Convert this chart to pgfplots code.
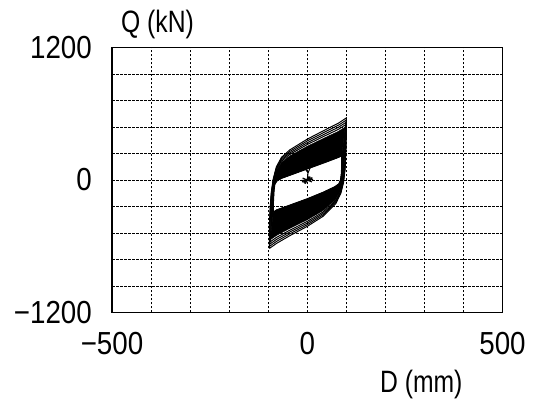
\documentclass[border=0pt]{standalone}
\usepackage{fontspec}
\setmainfont{Liberation Sans}[FakeStretch=0.87]
\newfontfamily\labelfont{Liberation Sans}[FakeStretch=0.8]
\usepackage{pgfplots}
\pgfplotsset{compat=1.18}
\begin{document}
\begin{tikzpicture}
\useasboundingbox (0,0) rectangle (536bp,407bp);
\begin{axis}[
  at={(112bp,94.5bp)}, anchor=south west,
  scale only axis, width=390.5bp, height=265bp,
  xmin=-500, xmax=500, ymin=-1200, ymax=1200,
  xtick={-500,0,500}, xticklabels={−500,0,500},
  ytick={-1200,0,1200}, yticklabels={−1200,0,1200},
  minor xtick={-400,-300,-200,-100,100,200,300,400},
  minor ytick={-960,-720,-480,-240,240,480,720,960},
  grid=both,
  major grid style={black, line width=0.8bp, dash pattern=on 2.5bp off 1.5bp},
  minor grid style={black, line width=0.8bp, dash pattern=on 2.5bp off 1.5bp},
  major tick length=0pt, minor tick length=0pt,
  axis line style={line width=1.5bp},
  tick label style={font=\fontsize{32}{36}\selectfont, inner sep=0pt},
  xticklabel style={anchor=north, yshift=-20bp},
  yticklabel style={anchor=east, xshift=-20bp},
  every axis x label/.style={at={(axis description cs:0.686,-0.272)}, anchor=west, inner sep=0pt, font=\labelfont\fontsize{31}{34}\selectfont},
  every axis y label/.style={at={(axis description cs:0.023,1.085)}, anchor=west, inner sep=0pt, font=\labelfont\fontsize{31}{34}\selectfont},
  xlabel={D (mm)}, ylabel={Q (kN)},
]
% dense band (filled), upper piece
\addplot[fill=black, draw=black, line width=0.5bp] coordinates {
(-94.6,-540.8) (-94.6,-374.4) (-92.84,-228.4) (-90.32,-106.4) (-86.04,-2) (-78.76,88.8)
(-66,159.4) (-45,216.8) (0,305.2) (48,387) (80,440.6) (97.12,479.4)
(88,218) (80,205) (48,162) (0,100) (-45,42) (-66,15) (-78,-10) (-83,-40) (-85,-95)
(-86,-160) (-87,-230) (-87,-290) (-94.6,-540.8)};
% lower piece
\addplot[fill=black, draw=black, line width=0.5bp] coordinates {
(97.12,479.4) (97.12,344.8) (96.36,216.4) (94.6,88) (91.08,-15.2) (84.8,-99.6)
(72.28,-178.3) (40,-277.7) (0,-360) (-45,-438.5) (-78.76,-501.8) (-94.6,-540.8)
(-87,-290) (-78,-270) (-45,-228) (0,-170) (40,-112) (70,-62) (81,-35) (85,0)
(87,50) (88,110) (88,170) (88,218) (97.12,479.4)};
% inner loop outline
\addplot[black, line width=1bp] coordinates {
(-87,-290) (-87,-230) (-86,-160) (-85,-95) (-83,-40) (-78,-10) (-66,15) (-45,42)
(0,100) (48,162) (80,205) (88,218) (88,170) (88,110) (87,50) (85,0) (81,-35)
(70,-62) (40,-112) (0,-170) (-45,-228) (-78,-270) (-87,-290)};
% outer distinct loops
\addplot[black, line width=1bp] coordinates {
(-97,-620) (-97,-420) (-95,-250) (-92,-110) (-87,10) (-79,120) (-66,205) (-45,272)
(0,370) (48,458) (80,515) (100,562) (100,400) (99,250) (97,100) (93,-20) (86,-120)
(73,-215) (40,-330) (0,-420) (-45,-505) (-79,-575) (-97,-620)};
\addplot[black, line width=1bp] coordinates {
(-96.4,-600.2) (-96.4,-408.6) (-94.46,-244.6) (-91.58,-109.1) (-86.76,7) (-78.94,112.2)
(-66,193.6) (-45,258.2) (0,353.8) (48,440.2) (80,496.4) (99.28,541.4) (99.28,386.2)
(98.34,241.6) (96.4,97) (92.52,-18.8) (85.7,-114.9) (72.82,-205.8) (40,-316.9)
(0,-405) (-45,-488.4) (-78.94,-556.7) (-96.4,-600.2)};
\addplot[black, line width=1bp] coordinates {
(-95.8,-580.4) (-95.8,-397.2) (-93.92,-239.2) (-91.16,-108.2) (-86.52,4) (-78.88,104.4)
(-66,182.2) (-45,244.4) (0,337.6) (48,422.5) (80,477.8) (98.56,520.7) (98.56,372.4)
(97.68,233.2) (95.8,94) (92.04,-17.6) (85.4,-109.8) (72.64,-196.6) (40,-303.8)
(0,-390) (-45,-471.8) (-78.88,-538.4) (-95.8,-580.4)};
\addplot[black, line width=1bp] coordinates {
(-95.2,-560.6) (-95.2,-385.8) (-93.38,-233.8) (-90.74,-107.3) (-86.28,1) (-78.82,96.6)
(-66,170.8) (-45,230.6) (0,321.4) (48,404.7) (80,459.2) (97.84,500.1) (97.84,358.6)
(97.02,224.8) (95.2,91) (91.56,-16.4) (85.1,-104.7) (72.46,-187.5) (40,-290.8)
(0,-375) (-45,-455.1) (-78.82,-520.1) (-95.2,-560.6)};
% initial loading and small cycles near origin
\addplot[black, line width=1bp] coordinates {(0,0) (1,35) (2,65) (-3,90) (-7,112)};
\addplot[black, line width=1bp] coordinates {(2,65) (5,90) (8,115)};
\addplot[black, line width=1.1bp] coordinates {(-12,-20) (-12,-6) (12,20) (12,6) (-12,-20)};
\addplot[black, line width=1.1bp] coordinates {(-15,-5) (15,5)};
\addplot[black, line width=1.1bp] coordinates {(-8,-30) (8,30)};
\addplot[black, line width=1.1bp] coordinates {(-12,18) (12,-18)};
\addplot[black, line width=1.1bp] coordinates {(-5,-34) (5,34)};
\end{axis}
\end{tikzpicture}
\end{document}
